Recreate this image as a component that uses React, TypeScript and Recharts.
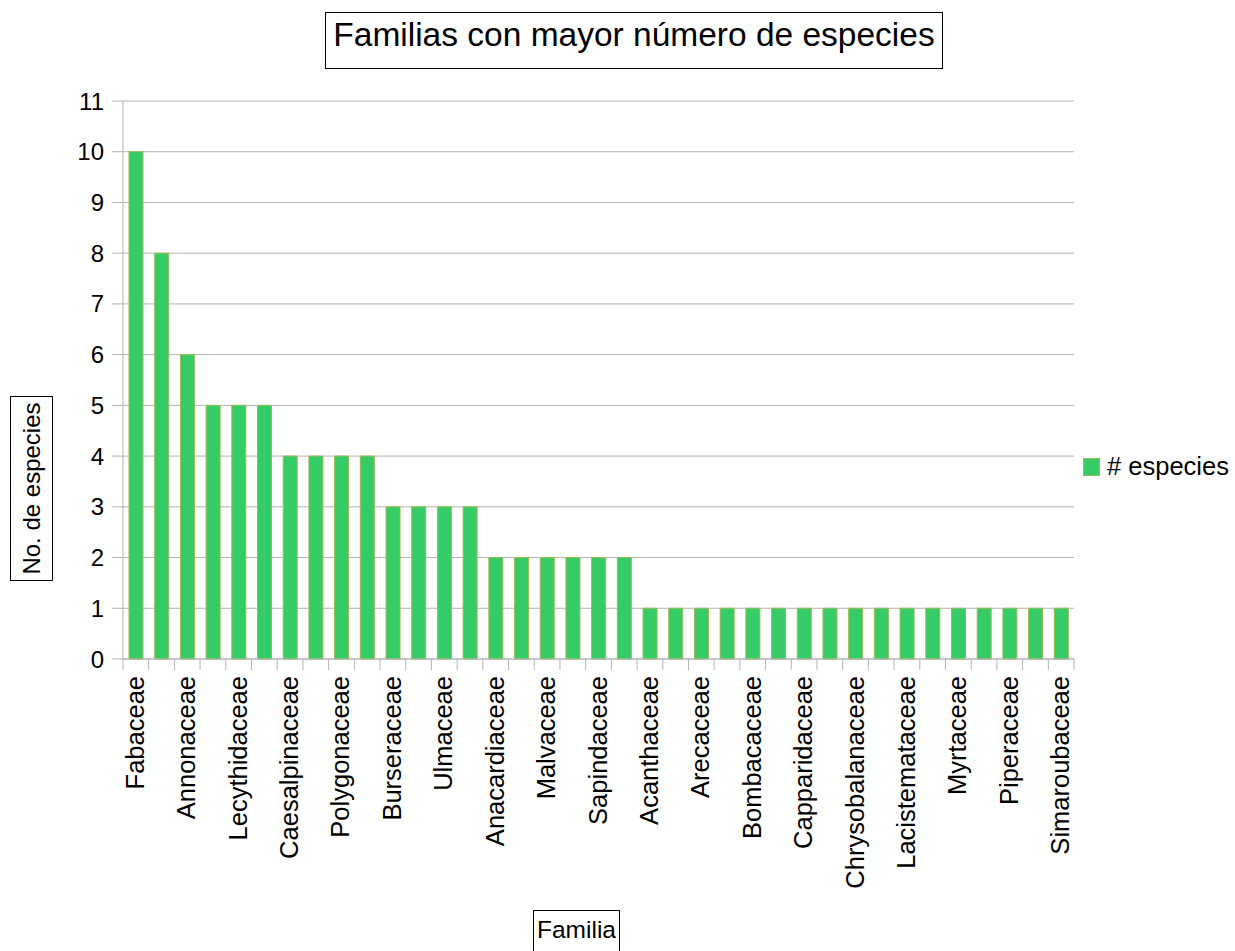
import { Bar, BarChart, CartesianGrid, XAxis, YAxis } from 'recharts';

// 37 familias, ordenadas por número de especies (solo se rotula una de cada dos)
const families = [
  'Fabaceae', 'Mimosaceae', 'Annonaceae', 'Lauraceae', 'Lecythidaceae', 'Sapotaceae',
  'Caesalpinaceae', 'Meliaceae', 'Polygonaceae', 'Rubiaceae', 'Burseraceae', 'Euphorbiaceae',
  'Ulmaceae', 'Urticaceae', 'Anacardiaceae', 'Apocynaceae', 'Malvaceae', 'Moraceae',
  'Sapindaceae', 'Sterculiaceae', 'Acanthaceae', 'Araliaceae', 'Arecaceae', 'Bignoniaceae',
  'Bombacaceae', 'Boraginaceae', 'Capparidaceae', 'Cecropiaceae', 'Chrysobalanaceae',
  'Clusiaceae', 'Lacistemataceae', 'Melastomataceae', 'Myrtaceae', 'Nyctaginaceae',
  'Piperaceae', 'Rhamnaceae', 'Simaroubaceae',
];
const species = [
  10, 8, 6, 5, 5, 5, 4, 4, 4, 4, 3, 3, 3, 3, 2, 2, 2, 2, 2, 2,
  1, 1, 1, 1, 1, 1, 1, 1, 1, 1, 1, 1, 1, 1, 1, 1, 1,
];
const yTicks = [0, 1, 2, 3, 4, 5, 6, 7, 8, 9, 10, 11];

const data = families.map((familia, i) => ({ familia, especies: species[i] }));

const FONT = '"Liberation Sans", Arial, sans-serif';
const GRID = '#b3b3b3';
const FILL = '#35cc67';
const EDGE = '#9cba52';

function FamilyTick(props: any) {
  const { x, y, payload } = props;
  const i = payload.index;
  const half = payload.offset || 12.85;
  const last = i === families.length - 1;
  return (
    <g>
      <line x1={x - half} x2={x - half} y1={y} y2={y + 11} stroke={GRID} />
      {last && <line x1={x + half} x2={x + half} y1={y} y2={y + 11} stroke={GRID} />}
      {i % 2 === 0 && (
        <text
          transform={`translate(${x - 1},${y + 17}) rotate(-90)`}
          textAnchor="end"
          dominantBaseline="central"
          fontSize={25.5}
          fontFamily={FONT}
          fill="#000"
        >
          {payload.value}
        </text>
      )}
    </g>
  );
}

export default function App() {
  return (
    <div
      style={{
        position: 'absolute',
        left: 0,
        top: 0,
        width: 1235,
        height: 951,
        overflow: 'hidden',
        background: '#fff',
        fontFamily: FONT,
      }}
    >
      <BarChart
        width={1235}
        height={951}
        data={data}
        margin={{ top: 101, right: 161, bottom: 0, left: 0 }}
        barSize={14}
      >
        <CartesianGrid vertical={false} stroke={GRID} />
        <XAxis
          dataKey="familia"
          interval={0}
          height={292}
          tickSize={0}
          tickMargin={0}
          tickLine={false}
          axisLine={{ stroke: GRID }}
          tick={<FamilyTick />}
        />
        <YAxis
          width={123}
          domain={[0, 11]}
          ticks={yTicks}
          interval={0}
          tickSize={11}
          tickMargin={8}
          axisLine={{ stroke: GRID }}
          tickLine={{ stroke: GRID }}
          tick={{ fontSize: 24, fill: '#000', fontFamily: FONT }}
        />
        <YAxis
          yAxisId="borde"
          orientation="right"
          width={0}
          domain={[0, 11]}
          tick={false}
          tickLine={false}
          axisLine={{ stroke: GRID }}
        />
        <Bar
          dataKey="especies"
          fill={FILL}
          stroke={EDGE}
          strokeWidth={1}
          isAnimationActive={false}
        />
      </BarChart>

      {/* título */}
      <div
        style={{
          position: 'absolute',
          left: 325,
          top: 12,
          width: 616,
          height: 55,
          border: '1px solid #000',
          textAlign: 'center',
          fontSize: 33.5,
          lineHeight: '43px',
          color: '#000',
        }}
      >
        Familias con mayor número de especies
      </div>

      {/* eje Y */}
      <div
        style={{
          position: 'absolute',
          left: 31.5 - 92.5,
          top: 488.5 - 21.5,
          width: 183,
          height: 41,
          border: '1px solid #000',
          transform: 'rotate(-90deg)',
          textAlign: 'center',
          fontSize: 24,
          lineHeight: '41px',
          color: '#000',
        }}
      >
        No. de especies
      </div>

      {/* eje X */}
      <div
        style={{
          position: 'absolute',
          left: 533,
          top: 910,
          width: 85,
          height: 50,
          border: '1px solid #000',
          textAlign: 'center',
          fontSize: 24.5,
          lineHeight: '38px',
          color: '#000',
        }}
      >
        Familia
      </div>

      {/* leyenda */}
      <div
        style={{
          position: 'absolute',
          left: 1083,
          top: 452,
          display: 'flex',
          alignItems: 'center',
          fontSize: 25.5,
          color: '#000',
          whiteSpace: 'nowrap',
        }}
      >
        <span
          style={{
            display: 'inline-block',
            width: 15,
            height: 16,
            background: FILL,
            border: `1px solid ${EDGE}`,
            marginRight: 7,
          }}
        />
        # especies
      </div>
    </div>
  );
}
